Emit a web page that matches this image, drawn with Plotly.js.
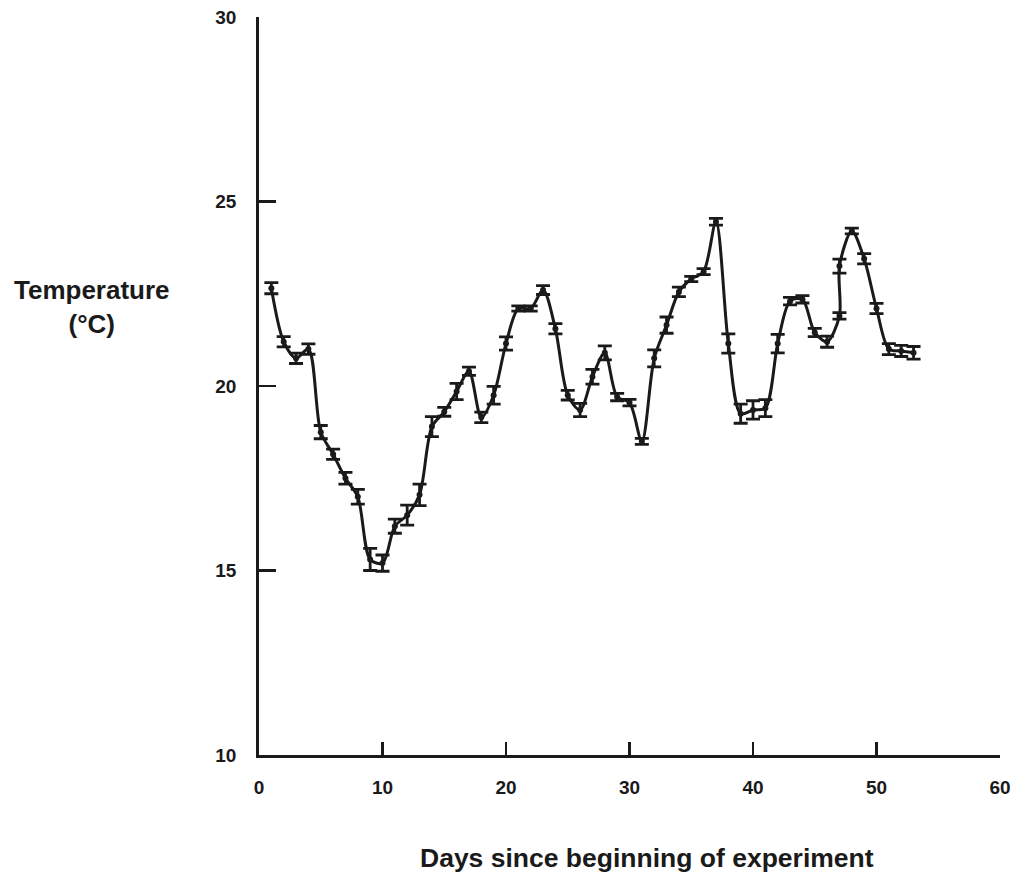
<!DOCTYPE html>
<html>
<head>
<meta charset="utf-8">
<script src="https://cdn.plot.ly/plotly-3.0.1.min.js"></script>
<style>html,body{margin:0;padding:0;background:#fff;}#chart{width:1018px;height:878px;}</style>
</head>
<body>
<div id="chart"></div>
<script>
const days = [1,2,3,4,5,6,7,8,9,10,11,12,13,14,15,16,17,18,19,20,21,22,23,24,25,26,27,28,29,30,31,32,33,34,35,36,37,38,39,40,41,42,43,44,45,46,47,47,48,49,50,51,52,53];
const temperature = [22.65,21.2,20.75,21.0,18.75,18.15,17.5,17.0,15.3,15.2,16.2,16.5,17.05,18.9,19.3,19.85,20.4,19.15,19.75,21.15,22.1,22.1,22.6,21.55,19.75,19.35,20.25,20.9,19.7,19.55,18.5,20.75,21.65,22.55,22.9,23.1,24.45,21.15,19.25,19.35,19.4,21.15,22.3,22.35,21.45,21.2,21.9,23.25,24.2,23.45,22.1,21.0,20.95,20.9];
const errors = [0.15,0.14,0.14,0.14,0.18,0.14,0.16,0.2,0.3,0.22,0.19,0.27,0.29,0.27,0.12,0.22,0.11,0.14,0.24,0.18,0.07,0.07,0.12,0.14,0.13,0.18,0.2,0.19,0.1,0.09,0.08,0.23,0.22,0.13,0.07,0.08,0.09,0.26,0.26,0.25,0.23,0.25,0.1,0.1,0.11,0.15,0.09,0.19,0.08,0.14,0.14,0.15,0.15,0.17];
const xTicks = [0,10,20,30,40,50,60];
const yTicks = [10,15,20,25,30];
const xTitle = "Days since beginning of experiment";
const yTitle = "Temperature<br>(°C)";

const font = "Liberation Sans, Arial, Helvetica, sans-serif";
const ink = "#1a1a1a";

const trace = {
  x: days, y: temperature, type: "scatter", mode: "lines+markers",
  line: {color: ink, width: 3, shape: "spline", smoothing: 0.85},
  marker: {color: ink, size: 6},
  error_y: {type: "data", array: errors, visible: true, color: ink, thickness: 2.8, width: 7},
  hoverinfo: "x+y", showlegend: false
};

const layout = {
  width: 1018, height: 878,
  margin: {l: 259, r: 18, t: 17, b: 123},
  paper_bgcolor: "#ffffff", plot_bgcolor: "#ffffff",
  font: {family: font, color: ink},
  showlegend: false,
  xaxis: {
    range: [0, 60], tickvals: xTicks, ticktext: xTicks.map(String),
    ticks: "inside", ticklen: 13, tickwidth: 2.6, tickcolor: ink,
    showline: true, linewidth: 2.8, linecolor: ink,
    showgrid: false, zeroline: false, fixedrange: true,
    tickfont: {family: font, size: 19, color: ink, weight: "bold"},
    ticklabelstandoff: 13
  },
  yaxis: {
    range: [10, 30], tickvals: yTicks, ticktext: yTicks.map(String),
    ticks: "inside", ticklen: 17, tickwidth: 2.6, tickcolor: ink,
    showline: true, linewidth: 2.8, linecolor: ink,
    showgrid: false, zeroline: false, fixedrange: true,
    tickfont: {family: font, size: 19, color: ink, weight: "bold"},
    ticklabelstandoff: 16
  },
  annotations: [
    {text: xTitle, xref: "paper", yref: "paper",
     x: (647 - 259) / (1000 - 259), y: -(858 - 755) / (755 - 17),
     xanchor: "center", yanchor: "middle", showarrow: false,
     font: {family: font, size: 26.5, color: ink, weight: "bold"}},
    {text: yTitle, xref: "paper", yref: "paper",
     x: (92 - 259) / (1000 - 259), y: (755 - 307) / (755 - 17),
     xanchor: "center", yanchor: "middle", align: "center", showarrow: false,
     font: {family: font, size: 26, color: ink, weight: "bold"}}
  ]
};

Plotly.newPlot("chart", [trace], layout, {displayModeBar: false, staticPlot: true});
</script>
</body>
</html>
